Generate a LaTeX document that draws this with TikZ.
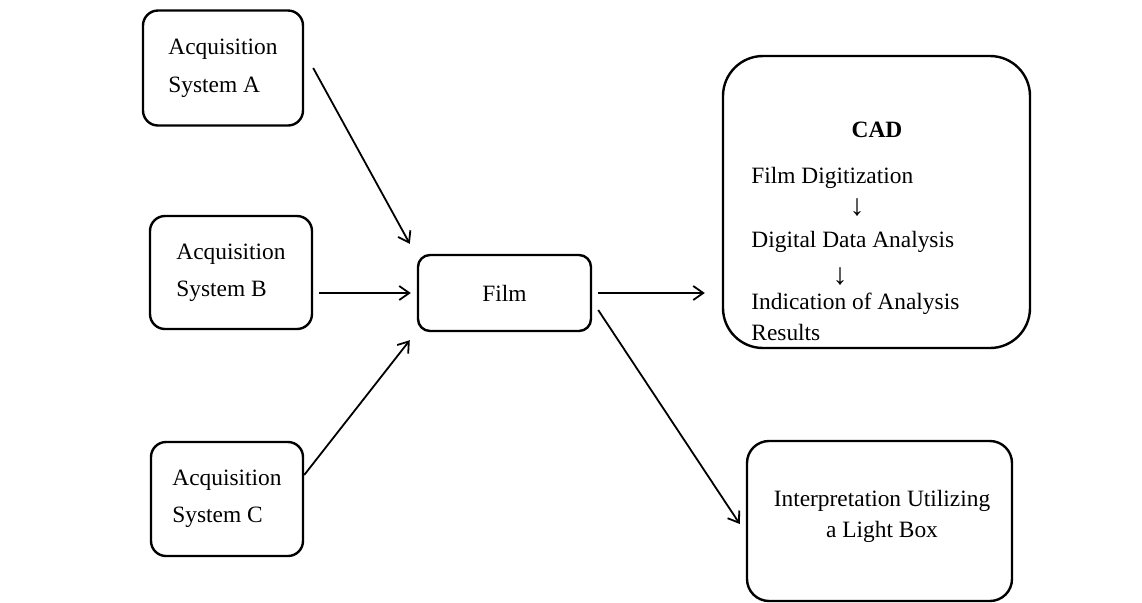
\documentclass[tikz,border=0pt]{standalone}
\usepackage{fontspec}
\setmainfont{Liberation Serif}
\usetikzlibrary{arrows.meta,calc}
\begin{document}
\begin{tikzpicture}[x=0.5pt,y=-0.5pt,
  box/.style={draw,line width=1.2pt,rounded corners=7.5pt,inner sep=0pt,align=left,font=\fontsize{11.7}{18.5}\selectfont},
  txt/.style={inner sep=0pt,font=\fontsize{11.7}{15.5}\selectfont},
  downarr/.style={inner sep=0pt,font=\fontsize{15}{15}\selectfont},
  arr/.style={line width=0.9pt,-{Straight Barb[length=5pt,width=7pt]}}]
\fill[white] (0,0) rectangle (1142,602);
\useasboundingbox (0,0) rectangle (1142,602);
% acquisition boxes
\node[box,minimum width=80pt,minimum height=57.5pt,font=\fontsize{11.7}{19.2}\selectfont] (A) at (223,68) {Acquisition\\System A};
\node[box,minimum width=81pt,minimum height=56.5pt] (B) at (231,272.5) {Acquisition\\System B};
\node[box,minimum width=76pt,minimum height=57pt] (C) at (227,499) {Acquisition\\System C};
% film
\node[box,rounded corners=6pt,minimum width=86.5pt,minimum height=38pt] (film) at (504.5,293) {Film};
% CAD
\node[box,rounded corners=20pt,minimum width=153.5pt,minimum height=146pt] (cad) at (876.5,202) {};
\node[txt,anchor=base,font=\fontsize{11.7}{15.5}\selectfont\bfseries] (cadt) at (877,137) {CAD};
\node[txt,anchor=base west] (cad1) at (751,183) {Film Digitization};
\node[downarr] (cadar1) at (857,208) {↓};
\node[txt,anchor=base west] (cad2) at (751,247) {Digital Data Analysis};
\node[downarr] (cadar2) at (840,277) {↓};
\node[txt,anchor=base west,align=left] (cad3) at (751,340) {Indication of Analysis\\Results};
% light box
\node[box,rounded corners=11pt,minimum width=132.5pt,minimum height=80pt] (light) at (879.5,521) {};
\node[txt,align=center] (lighttxt) at (882,516) {Interpretation Utilizing\\a Light Box};
% connectors
\draw[arr] ($(A.east)+(9,0)$) -- ($(film.north west)+(-7,-10)$);
\draw[arr] ($(B.east |- film.west)+(6,0)$) -- ($(film.west)+(-6,0)$);
\draw[arr] ($(C.east)+(0,-24)$) -- ($(film.south west)+(-7,8)$);
\draw[arr] ($(film.east)+(6,0)$) -- ($(film.east -| cad.west)+(-17,0)$);
\draw[arr] ($(film.east)+(6,17)$) -- ($(light.west)+(-6,3)$);
\end{tikzpicture}
\end{document}
